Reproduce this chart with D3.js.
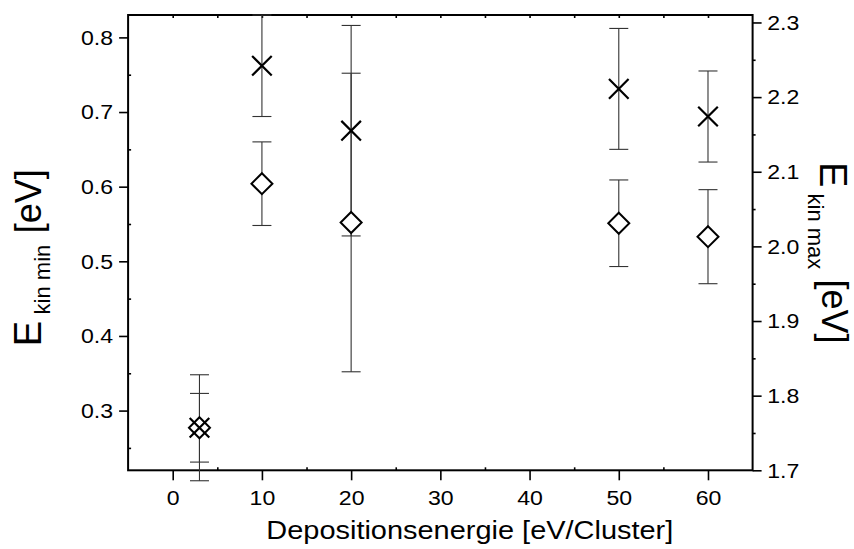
<!DOCTYPE html>
<html>
<head>
<meta charset="utf-8">
<script src="https://cdn.jsdelivr.net/npm/d3@7"></script>
<style>
  body { margin: 0; background: #fff; }
  svg { display: block; }
  text { font-family: "Liberation Sans", Arial, sans-serif; fill: #000; }
</style>
</head>
<body>
<svg id="chart" width="854" height="549"></svg>
<script>
// Deposition energy per cluster (x) and the two kinetic-energy limits
const depositionEnergy = [3, 10, 20, 50, 60];
const ekinMin    = [0.277, 0.604, 0.552, 0.551, 0.533];
const ekinMinErr = [0.046, 0.056, 0.200, 0.058, 0.063];
const ekinMax    = [1.757, 2.242, 2.155, 2.211, 2.174];
const ekinMaxErr = [0.071, 0.068, 0.141, 0.081, 0.061];

// Axis ticks
const xTicks = [0, 10, 20, 30, 40, 50, 60];
const xMinorTicks = [5, 15, 25, 35, 45, 55];
const leftTicks = [0.3, 0.4, 0.5, 0.6, 0.7, 0.8];
const leftMinorTicks = [0.25, 0.35, 0.45, 0.55, 0.65, 0.75];
const rightTicks = [1.7, 1.8, 1.9, 2.0, 2.1, 2.2, 2.3];
const rightMinorTicks = [1.75, 1.85, 1.95, 2.05, 2.15, 2.25];

const svg = d3.select("#chart");
const L = 128.1, R = 752.6, T = 15, B = 470.3;

const x = d3.scaleLinear().domain([-5, 65]).range([L, R]);
const yL = d3.scaleLinear().domain([0.22, 0.83]).range([B, T]);
const yR = d3.scaleLinear().domain([1.7, 2.31]).range([B, T]);

const fmt1 = d3.format(".1f");
const labelStretch = "scale(1.1,1)";

function styleAxis(g) {
  g.select(".domain").remove();
  g.selectAll(".tick line").attr("stroke", "#000").attr("stroke-width", 1.6);
  g.selectAll("text").attr("font-size", 21);
}

// Bottom axis
const gx = svg.append("g").attr("transform", `translate(0,${B})`)
  .call(d3.axisBottom(x).tickValues(xTicks).tickSize(10).tickPadding(10).tickFormat(d3.format("d")));
styleAxis(gx);
gx.selectAll("text").attr("transform", labelStretch);
svg.append("g").attr("transform", `translate(0,${B})`)
  .call(d3.axisBottom(x).tickValues(xMinorTicks).tickSize(-3).tickFormat(""))
  .call(styleAxis);
// Top mirror ticks
svg.append("g").attr("transform", `translate(0,${T})`)
  .call(d3.axisTop(x).tickValues(xTicks.concat(xMinorTicks)).tickSize(-3).tickFormat(""))
  .call(styleAxis);

// Left axis
const gyl = svg.append("g").attr("transform", `translate(${L},0)`)
  .call(d3.axisLeft(yL).tickValues(leftTicks).tickSize(9).tickFormat(fmt1));
styleAxis(gyl);
gyl.selectAll("text").attr("x", 0).attr("transform", `translate(-15.1,0) ${labelStretch}`);
svg.append("g").attr("transform", `translate(${L},0)`)
  .call(d3.axisLeft(yL).tickValues(leftMinorTicks).tickSize(-3).tickFormat(""))
  .call(styleAxis);

// Right axis
const gyr = svg.append("g").attr("transform", `translate(${R},0)`)
  .call(d3.axisRight(yR).tickValues(rightTicks).tickSize(9).tickFormat(fmt1));
styleAxis(gyr);
gyr.selectAll("text").attr("x", 0).attr("transform", `translate(14.6,0) ${labelStretch}`);
svg.append("g").attr("transform", `translate(${R},0)`)
  .call(d3.axisRight(yR).tickValues(rightMinorTicks).tickSize(3).tickFormat(""))
  .call(styleAxis);

// Plot frame
svg.append("rect")
  .attr("x", L).attr("y", T).attr("width", R - L).attr("height", B - T)
  .attr("fill", "none").attr("stroke", "#000").attr("stroke-width", 2);

// Error bars
function errorBars(vals, errs, y) {
  const data = depositionEnergy.map((d, i) => ({ x: d, v: vals[i], e: errs[i] }));
  const g = svg.append("g").attr("stroke", "#333").attr("stroke-width", 1.1).attr("fill", "none");
  const cap = 9.5;
  const sel = g.selectAll("g").data(data).join("g");
  sel.append("line")
    .attr("x1", d => x(d.x)).attr("x2", d => x(d.x))
    .attr("y1", d => y(d.v - d.e)).attr("y2", d => y(d.v + d.e));
  sel.append("line")
    .attr("x1", d => x(d.x) - cap).attr("x2", d => x(d.x) + cap)
    .attr("y1", d => y(d.v + d.e)).attr("y2", d => y(d.v + d.e));
  sel.append("line")
    .attr("x1", d => x(d.x) - cap).attr("x2", d => x(d.x) + cap)
    .attr("y1", d => y(d.v - d.e)).attr("y2", d => y(d.v - d.e));
}
errorBars(ekinMin, ekinMinErr, yL);
errorBars(ekinMax, ekinMaxErr, yR);

// Diamonds: E_kin min (left axis)
svg.append("g").selectAll("path")
  .data(depositionEnergy.map((d, i) => [d, ekinMin[i]]))
  .join("path")
  .attr("transform", d => `translate(${x(d[0])},${yL(d[1])})`)
  .attr("d", "M0,-10.5L10.5,0L0,10.5L-10.5,0Z")
  .attr("fill", "#fff").attr("stroke", "#000").attr("stroke-width", 2);

// Crosses: E_kin max (right axis)
svg.append("g").selectAll("path")
  .data(depositionEnergy.map((d, i) => [d, ekinMax[i]]))
  .join("path")
  .attr("transform", d => `translate(${x(d[0])},${yR(d[1])})`)
  .attr("d", "M-9.8,-9.8L9.8,9.8M-9.8,9.8L9.8,-9.8")
  .attr("fill", "none").attr("stroke", "#000").attr("stroke-width", 2.2);

// X axis title
svg.append("text")
  .attr("x", 266.3).attr("y", 539.3)
  .attr("font-size", 25)
  .attr("textLength", 407).attr("lengthAdjust", "spacingAndGlyphs")
  .text("Depositionsenergie [eV/Cluster]");

// Left axis title: E_kin min [eV], reading upward
const lt = svg.append("g");
lt.append("text").attr("transform", "translate(40.7,346.3) rotate(-90)")
  .attr("font-size", 38).text("E");
lt.append("text").attr("transform", "translate(50,314.4) rotate(-90)")
  .attr("font-size", 22).text("kin min");
lt.append("text").attr("transform", "translate(40.5,233.3) rotate(-90)")
  .attr("font-size", 36).text("[eV]");

// Right axis title: E_kin max [eV], reading downward
const rt = svg.append("g");
rt.append("text").attr("transform", "translate(820,162) rotate(90)")
  .attr("font-size", 38).text("E");
rt.append("text").attr("transform", "translate(808,193.5) rotate(90)")
  .attr("font-size", 22).text("kin max");
rt.append("text").attr("transform", "translate(821.5,279.4) rotate(90)")
  .attr("font-size", 36).text("[eV]");
</script>
</body>
</html>
